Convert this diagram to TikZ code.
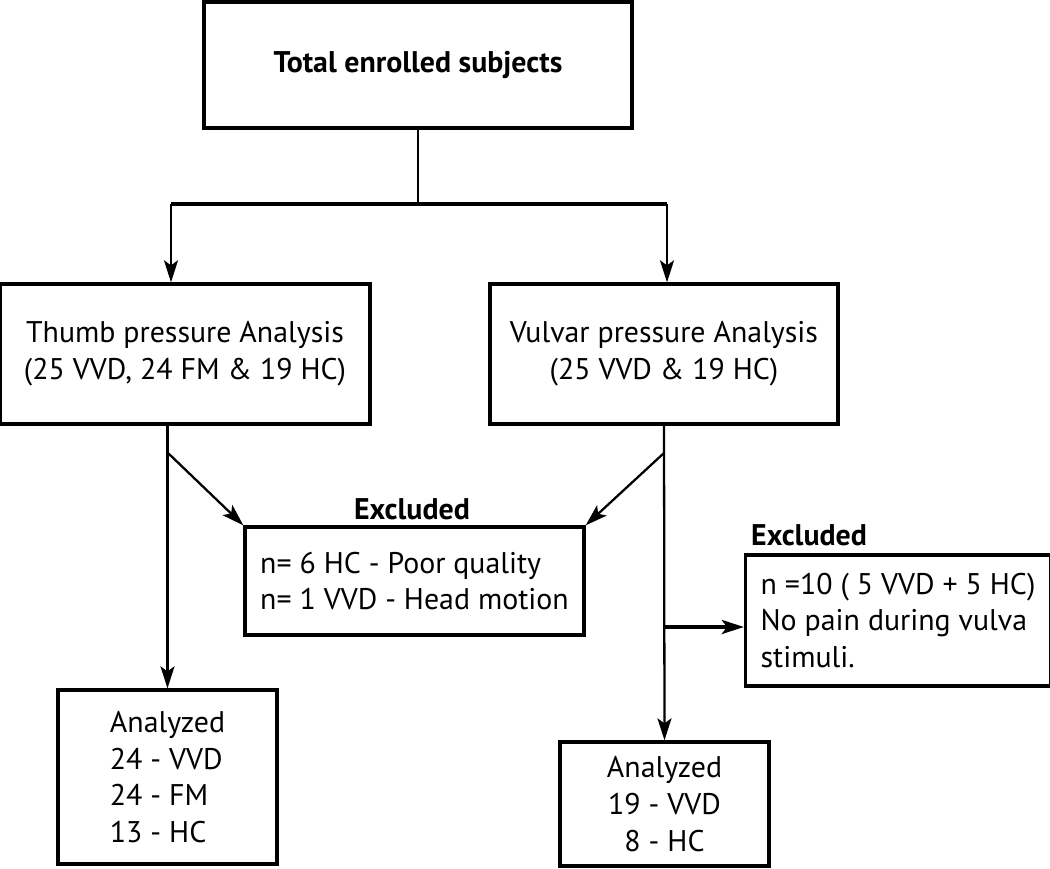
\documentclass[tikz,border=0pt]{standalone}
\usepackage{fontspec}
\setmainfont{PT Sans}
\usetikzlibrary{arrows.meta}

\begin{document}
\begin{tikzpicture}[x=0.02cm, y=-0.02cm,
        box/.style={draw, line width=1.9pt, inner sep=0pt, align=center},
        arr/.style={line width=1.3pt, -{Stealth[length=0.44cm, width=0.28cm, inset=0.1cm]}},
        every node/.style={font=\fontsize{17}{21}\selectfont}]
        \useasboundingbox (0, 0) rectangle (1050, 868);

        \node[box, minimum width=8.56cm, minimum height=2.52cm] (total) at (418, 65) {\textbf{Total enrolled subjects}};
        \node[box, minimum width=7.4cm, minimum height=2.8cm] (thumb) at (185, 354) {Thumb pressure Analysis\\(25 VVD, 24 FM \& 19 HC)};
        \node[box, minimum width=6.96cm, minimum height=2.8cm] (vulvar) at (664, 354) {Vulvar pressure Analysis\\(25 VVD \& 19 HC)};
        \node[box, minimum width=6.78cm, minimum height=2.16cm, align=left] (excl1) at (414.5, 581) {n= 6 HC - Poor quality\\n= 1 VVD - Head motion};
        \node[font=\fontsize{17}{21}\selectfont\bfseries] (excl1lbl) at (412, 509) {Excluded};
        \node[box, minimum width=6.1cm, minimum height=2.62cm, align=left] (excl2) at (898, 620.5) {n =10 ( 5 VVD + 5 HC)\\No pain during vulva\\stimuli.};
        \node[font=\fontsize{17}{21}\selectfont\bfseries, anchor=west] (excl2lbl) at (745, 535) {Excluded};
        \node[box, minimum width=4.38cm, minimum height=3.48cm, align=left] (ana1) at (167.5, 777) {Analyzed\\24 - VVD\\24 - FM\\13 - HC};
        \node[box, minimum width=4.18cm, minimum height=2.48cm] (ana2) at (664.5, 804) {Analyzed\\19 - VVD\\8 - HC};

        \coordinate (split) at (418, 204);
        \coordinate (splitl) at (171, 204);
        \coordinate (splitr) at (667, 204);
        \coordinate (thumbk) at (168, 453);
        \coordinate (vulvark) at (664, 453);
        \coordinate (vulvarm) at (664, 627);

        \draw[line width=1.3pt] (total.south) -- (split);
        \draw[line width=1.9pt] (splitl) -- (splitr);
        \draw[arr] (splitl) -- (splitl |- thumb.north);
        \draw[arr] (splitr) -- (splitr |- vulvar.north);

        \draw[arr] (thumb.south -| ana1.north) -- (ana1.north);
        \draw[arr] (thumbk) -- (excl1.north west);
        \draw[arr] (vulvar.south) -- (ana2.north);
        \draw[arr] (vulvark) -- (excl1.north east);
        \draw[arr, line width=1.9pt] (vulvarm) -- (vulvarm -| excl2.west);
    \end{tikzpicture}
\end{document}
